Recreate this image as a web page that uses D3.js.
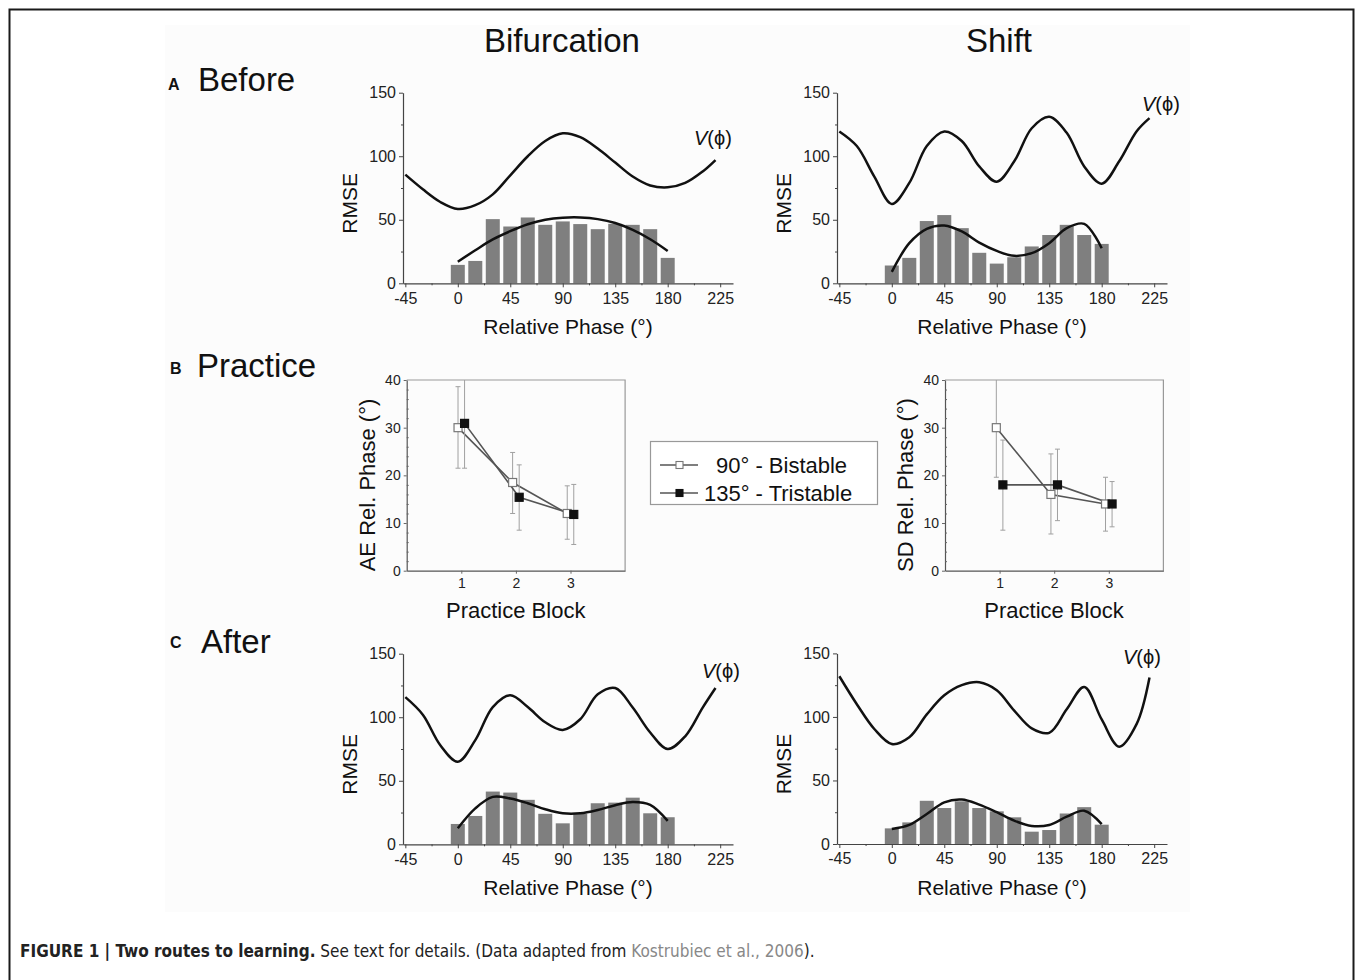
<!DOCTYPE html>
<html><head><meta charset="utf-8">
<script src="https://cdn.jsdelivr.net/npm/d3@7"></script>
<style>
html,body{margin:0;padding:0;background:#fff;}
svg{display:block;font-family:"Liberation Sans",Arial,sans-serif;}
</style></head>
<body>
<svg id="fig" width="1355" height="980"></svg>
<script>
// ---------------- DATA ----------------
const phaseBins = [0,15,30,45,60,75,90,105,120,135,150,165,180];
const barsBeforeBif   = [14.5,17.6,50.5,44.7,51.8,46,48.7,46.6,42.6,46.8,46,42.6,20];
const barsBeforeShift = [14,20,49,53.7,43.4,24,15.5,20.5,29,38,46,38,31];
const barsAfterBif    = [16,22.3,41.5,40.7,35,24,16.5,24,32.3,32.8,36.7,24.4,21.3];
const barsAfterShift  = [12.3,17,34,28.3,33.6,28.3,25.7,21,9.7,11,24,29,15.2];

const fitPhase = [0,15,30,45,60,75,90,105,120,135,150,165,180];
const fitBeforeBif   = [17,26,34.5,41,46.5,50,51.6,51.8,50.5,47.4,42,34.7,25.5];
const fitBeforeShift = [9,31.6,42.9,45.5,40.8,32,25.5,21.6,23.7,31.6,43.4,46.8,27.6];
const fitAfterBif    = [12.6,28.3,37.3,36,32.3,27.6,24.4,24.4,27,30.8,33.3,31,18.4];
const fitAfterShift  = [11.8,15,23.6,32.8,35,31,25,18.4,14.2,15,21.5,26.2,15.7];

const vPhase = [-45,-30,-15,0,15,30,45,60,75,90,105,120,135,150,165,180,195,210,221];
const vBeforeBif   = [85.5,74,64,58.5,61.5,70,85,100,112,118,115,106,95,84,77,75.5,79,88,97];
const vBeforeShift = [119.5,108,84,62.5,79,108,119.5,112,92,80,96,122,131,118.4,92,78.4,96,119.7,130];
const vAfterBif    = [115.8,102,78,65,82,108,117.3,108,96,90,98.4,118,123,107.6,88,75,85,107.6,123];
const vAfterShift  = [132,110,90.5,78.7,84,102,117,125,127.3,121,105,91,87.5,106,123.5,98,76.6,94.5,131];

const phaseTicks = [-45,0,45,90,135,180,225];
const phaseMinorTicks = [-22.5,22.5,67.5,112.5,157.5,202.5];
const rmseTicks = [0,50,100,150];
const rmseMinorTicks = [25,75,125];

const blocks = [1,2,3];
const blockTicks = [1,2,3];
const practiceTicks = [0,10,20,30,40];
const practiceMinorTicks = [2,4,6,8,12,14,16,18,22,24,26,28,32,34,36,38];
// AE panel
const aeBistable     = [30,18.5,12];
const aeBistableHi   = [38.6,24.8,17.8];
const aeBistableLo   = [21.5,12,6.6];
const aeTristable    = [30.9,15.4,11.8];
const aeTristableHi  = [40,22.2,18.1];
const aeTristableLo  = [21.5,8.5,5.5];
// SD panel
const sdBistable     = [30,16,14];
const sdBistableHi   = [40,24.5,19.6];
const sdBistableLo   = [19.6,7.7,8.3];
const sdTristable    = [18,18,14];
const sdTristableHi  = [27.4,25.5,18.7];
const sdTristableLo  = [8.5,10.5,9.2];

const legendLabels = ["90° - Bistable","135° - Tristable"];

// ---------------- DRAW ----------------
const svg = d3.select("#fig");

// outer frame + light figure background
svg.append("rect").attr("x",165).attr("y",25).attr("width",1025).attr("height",887).attr("fill","#fcfcfc");
svg.append("path").attr("d","M9.5,980 V9.5 H1353.5 V980").attr("fill","none").attr("stroke","#1a1a1a").attr("stroke-width",2);

// Column titles
svg.append("text").attr("x",562).attr("y",52).attr("text-anchor","middle").attr("font-size",33).attr("fill","#111").text("Bifurcation");
svg.append("text").attr("x",999).attr("y",52).attr("text-anchor","middle").attr("font-size",33).attr("fill","#111").text("Shift");

// Row labels
function rowLabel(letter, word, lx, wx, by, ly){
  svg.append("text").attr("x",lx).attr("y",ly).attr("font-size",16).attr("font-weight","bold").attr("fill","#111").text(letter);
  svg.append("text").attr("x",wx).attr("y",by).attr("font-size",33).attr("fill","#111").text(word);
}
rowLabel("A","Before",168,198,91,90);
rowLabel("B","Practice",170,197,377,374);
rowLabel("C","After",170,201,653,648);

function rmsePanel(ax, ybot, bars, fit, vvals, vlab){
  const x = d3.scaleLinear().domain([-47,236]).range([ax, ax+330]);
  const y = d3.scaleLinear().domain([0,150]).range([ybot, ybot-190.6]);
  const g = svg.append("g");
  // bars
  g.selectAll("rect.bar").data(phaseBins).enter().append("rect")
    .attr("x",(d)=>x(d-6)).attr("width",(d)=>x(d+6)-x(d-6))
    .attr("y",(d,i)=>y(bars[i])).attr("height",(d,i)=>y(0)-y(bars[i]))
    .attr("fill","#7f7f7f");
  // fit curve
  const line = d3.line().x(d=>x(d[0])).y(d=>y(d[1])).curve(d3.curveCatmullRom.alpha(0.5));
  g.append("path").attr("d",line(fitPhase.map((p,i)=>[p,fit[i]])))
    .attr("fill","none").attr("stroke","#111").attr("stroke-width",2.5);
  g.append("path").attr("d",line(vPhase.map((p,i)=>[p,vvals[i]])))
    .attr("fill","none").attr("stroke","#111").attr("stroke-width",2.5);
  // axes
  g.append("g").attr("transform",`translate(0,${ybot})`)
    .call(d3.axisBottom(x).tickValues(phaseTicks).tickFormat(d=>String(d)).tickSize(4).tickSizeOuter(0).tickPadding(5));
  g.append("g").attr("transform",`translate(0,${ybot})`)
    .call(d3.axisBottom(x).tickValues(phaseMinorTicks).tickFormat("").tickSize(2).tickSizeOuter(0))
    .select(".domain").remove();
  g.append("g").attr("transform",`translate(${ax},0)`)
    .call(d3.axisLeft(y).tickValues(rmseTicks).tickSize(4).tickSizeOuter(0).tickPadding(3));
  g.append("g").attr("transform",`translate(${ax},0)`)
    .call(d3.axisLeft(y).tickValues(rmseMinorTicks).tickFormat("").tickSize(2).tickSizeOuter(0))
    .select(".domain").remove();
  g.selectAll(".domain").attr("stroke","#444").attr("stroke-width",1.2);
  g.selectAll(".tick line").attr("stroke","#444");
  g.selectAll(".tick text").attr("font-size",16).attr("fill","#222").attr("font-family","Liberation Sans, Arial, sans-serif");
  // titles
  g.append("text").attr("x",ax+165).attr("y",ybot+51).attr("text-anchor","middle").attr("font-size",21).attr("fill","#111").text("Relative Phase (°)");
  g.append("text").attr("transform",`translate(${ax-46},${ybot-80}) rotate(-90)`).attr("text-anchor","middle").attr("font-size",21).attr("fill","#111").text("RMSE");
  // V label
  const t = g.append("text").attr("x",vlab[0]).attr("y",vlab[1]).attr("font-size",20).attr("fill","#111");
  t.append("tspan").attr("font-style","italic").text("V");
  t.append("tspan").text("(ϕ)");
}
rmsePanel(403, 283.3, barsBeforeBif, fitBeforeBif, vBeforeBif, [694,145]);
rmsePanel(837, 283.3, barsBeforeShift, fitBeforeShift, vBeforeShift, [1142,111]);
rmsePanel(403, 844.3, barsAfterBif, fitAfterBif, vAfterBif, [702,678]);
rmsePanel(837, 844, barsAfterShift, fitAfterShift, vAfterShift, [1123,664]);

function practicePanel(ax, ytitle, bi, biHi, biLo, tri, triHi, triLo){
  const x = d3.scaleLinear().domain([0,4]).range([ax, ax+218.4]);
  const y = d3.scaleLinear().domain([0,40]).range([570.7, 380]);
  const g = svg.append("g");
  g.append("path").attr("d",`M${x(0)},${y(40)} H${x(4)} V${y(0)}`).attr("fill","none").attr("stroke","#999").attr("stroke-width",1.2);
  g.append("g").attr("transform",`translate(0,${y(0)})`)
    .call(d3.axisBottom(x).tickValues(blockTicks).tickFormat(d=>String(d)).tickSize(3).tickSizeOuter(0).tickPadding(4));
  g.append("g").attr("transform",`translate(${ax},0)`)
    .call(d3.axisLeft(y).tickValues(practiceTicks).tickSize(3).tickSizeOuter(0).tickPadding(3));
  g.append("g").attr("transform",`translate(${ax},0)`)
    .call(d3.axisRight(y).tickValues(practiceMinorTicks).tickFormat("").tickSize(2).tickSizeOuter(0))
    .select(".domain").remove();
  g.selectAll(".domain").attr("stroke","#555").attr("stroke-width",1.2);
  g.selectAll(".tick line").attr("stroke","#666");
  g.selectAll(".tick text").attr("font-size",14).attr("fill","#222").attr("font-family","Liberation Sans, Arial, sans-serif");

  const off = 0.06;
  function series(vals, hi, lo, dx, filled){
    blocks.forEach((b,i)=>{
      const cx = x(b+dx);
      g.append("line").attr("x1",cx).attr("x2",cx).attr("y1",y(hi[i])).attr("y2",y(lo[i])).attr("stroke","#a0a0a0").attr("stroke-width",1);
      [hi[i],lo[i]].forEach(v=>{
        if (v < 40) g.append("line").attr("x1",cx-2.5).attr("x2",cx+2.5).attr("y1",y(v)).attr("y2",y(v)).attr("stroke","#a0a0a0").attr("stroke-width",1);
      });
    });
    const line = d3.line().x((d,i)=>x(blocks[i]+dx)).y(d=>y(d));
    g.append("path").attr("d",line(vals)).attr("fill","none").attr("stroke","#555").attr("stroke-width",1.6);
    return ()=>{
      g.selectAll(null).data(vals).enter().append("rect")
        .attr("x",(d,i)=>x(blocks[i]+dx)-4).attr("y",d=>y(d)-4).attr("width",8).attr("height",8)
        .attr("fill",filled?"#111":"#fff").attr("stroke",filled?"#111":"#777").attr("stroke-width",1.2);
    };
  }
  const m1 = series(bi, biHi, biLo, -off, false);
  const m2 = series(tri, triHi, triLo, off, true);
  m1(); m2();
  g.append("text").attr("x",ax+109).attr("y",618).attr("text-anchor","middle").attr("font-size",22).attr("fill","#111").text("Practice Block");
  g.append("text").attr("transform",`translate(${ax-32},485) rotate(-90)`).attr("text-anchor","middle").attr("font-size",22).attr("fill","#111").text(ytitle);
}
practicePanel(406.7, "AE Rel. Phase (°)", aeBistable, aeBistableHi, aeBistableLo, aeTristable, aeTristableHi, aeTristableLo);
practicePanel(945, "SD Rel. Phase (°)", sdBistable, sdBistableHi, sdBistableLo, sdTristable, sdTristableHi, sdTristableLo);

// Legend
const lg = svg.append("g");
lg.append("rect").attr("x",650.5).attr("y",441.5).attr("width",227).attr("height",63).attr("fill","#fff").attr("stroke","#999").attr("stroke-width",1.2);
const legRows = [{y:465, filled:false, tx:716},{y:493, filled:true, tx:704}];
legRows.forEach((r,i)=>{
  lg.append("line").attr("x1",660).attr("x2",698).attr("y1",r.y).attr("y2",r.y).attr("stroke","#555").attr("stroke-width",1.5);
  lg.append("rect").attr("x",676).attr("y",r.y-3.5).attr("width",7).attr("height",7)
    .attr("fill",r.filled?"#111":"#fff").attr("stroke",r.filled?"#111":"#777").attr("stroke-width",1.1);
  lg.append("text").attr("x",r.tx).attr("y",r.y+8).attr("font-size",22).attr("fill","#111").text(legendLabels[i]);
});

// Caption
const cap = svg.append("text").attr("x",20).attr("y",957).attr("font-size",17)
  .attr("font-family","'Liberation Sans Narrow','DejaVu Sans Condensed','Liberation Sans',sans-serif").attr("fill","#222");
cap.append("tspan").attr("font-weight","bold").text("FIGURE 1 | Two routes to learning.");
cap.append("tspan").text(" See text for details. (Data adapted from ");
cap.append("tspan").attr("fill","#888").text("Kostrubiec et al., 2006");
cap.append("tspan").text(").");
</script>
</body></html>
